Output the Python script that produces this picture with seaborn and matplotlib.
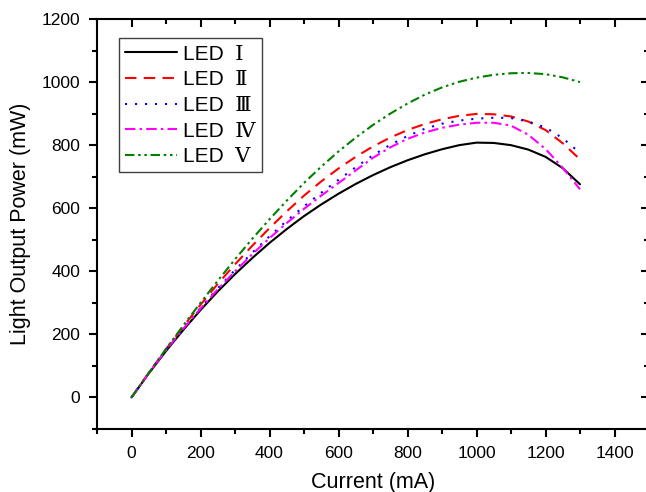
import numpy as np
import pandas as pd
import matplotlib
matplotlib.use("Agg")
import matplotlib.pyplot as plt
from matplotlib.ticker import MultipleLocator
from matplotlib.font_manager import FontProperties
from matplotlib.lines import TICKDOWN, TICKLEFT
import seaborn as sns

# Drive current (mA)
current = [0, 50, 100, 150, 200, 250, 300, 350, 400, 450, 500, 550, 600, 650,
           700, 750, 800, 850, 900, 950, 1000, 1050, 1100, 1150, 1200, 1250, 1300]

# Light output power (mW) for each device
led_1 = [0, 76, 147, 214, 277, 336, 391, 442, 490, 534, 575, 612, 646, 677,
         705, 730, 752, 771, 787, 800, 808, 807, 800, 786, 763, 727, 676]
led_2 = [0, 78, 153, 225, 294, 360, 422, 481, 537, 590, 640, 685, 726, 763,
         796, 824, 848, 867, 882, 893, 899, 898, 891, 875, 848, 806, 755]
led_3 = [0, 77, 150, 219, 284, 346, 404, 459, 511, 560, 606, 649, 690, 730,
         768, 801, 829, 852, 868, 878, 884, 887, 886, 875, 856, 822, 775]
led_4 = [0, 77, 150, 218, 282, 343, 400, 454, 505, 553, 598, 640, 680, 720,
         760, 793, 820, 840, 855, 865, 871, 871, 862, 833, 788, 728, 660]
led_5 = [0, 78, 154, 228, 300, 370, 438, 503, 565, 624, 680, 732, 780, 824,
         864, 900, 932, 960, 983, 1001, 1014, 1023, 1028, 1029, 1025, 1015, 1000]

labels = ["LED  Ⅰ", "LED  Ⅱ", "LED  Ⅲ", "LED  Ⅳ", "LED  Ⅴ"]
series = [led_1, led_2, led_3, led_4, led_5]

df = pd.DataFrame({
    "Current": np.tile(current, len(series)),
    "Power": np.concatenate(series),
    "Device": np.repeat(labels, len(current)),
})

sns.set_style("ticks")
plt.rcParams["font.family"] = ["Liberation Sans", "DejaVu Serif"]
plt.rcParams.update({
    "axes.linewidth": 1.5,
    "text.color": "black",
    "axes.labelcolor": "black",
    "axes.edgecolor": "black",
    "xtick.color": "black",
    "ytick.color": "black",
})

palette = dict(zip(labels, ["#000000", "#ff0000", "#0000ff", "#ff00ff", "#008000"]))
dashes = dict(zip(labels, ["", (5.5, 3.5), (1, 3.8), (5, 2, 1.2, 2),
                           (4.5, 1.8, 1.2, 1.8, 1.2, 1.8)]))

fig = plt.figure(figsize=(6.46, 4.92), dpi=100)
ax = fig.add_axes([97 / 646, 1 - 429 / 492, 552 / 646, 410 / 492])

sns.lineplot(data=df, x="Current", y="Power", hue="Device", style="Device",
             palette=palette, dashes=dashes, linewidth=1.5, legend=False, ax=ax)

ax.set_xlim(-100, 1500)
ax.set_ylim(-100, 1200)
ax.xaxis.set_major_locator(MultipleLocator(200))
ax.xaxis.set_minor_locator(MultipleLocator(100))
ax.yaxis.set_major_locator(MultipleLocator(200))
ax.yaxis.set_minor_locator(MultipleLocator(100))
ax.set_xticks([0, 200, 400, 600, 800, 1000, 1200, 1400])

ax.tick_params(axis="both", which="major", direction="out", length=6, width=1.5,
               labelsize=12.5, pad=6)
ax.tick_params(axis="both", which="minor", direction="out", length=3.5, width=1.5)
ax.tick_params(axis="both", which="both", top=True, right=True)
# top and right ticks point inwards
for t in ax.xaxis.get_major_ticks() + ax.xaxis.get_minor_ticks():
    t.tick2line.set_marker(TICKDOWN)
for t in ax.yaxis.get_major_ticks() + ax.yaxis.get_minor_ticks():
    t.tick2line.set_marker(TICKLEFT)

ax.set_xlabel("Current (mA)", fontsize=15.5, labelpad=8)
ax.set_ylabel("Light Output Power (mW)", fontsize=15.5, labelpad=8)

leg = ax.legend(handles=ax.get_lines()[:5], labels=labels, loc="upper left",
                bbox_to_anchor=(0.039, 0.953),
                prop=FontProperties(family=["Liberation Sans", "DejaVu Serif"], size=15),
                frameon=True, fancybox=False, shadow=False, framealpha=1,
                edgecolor="#404040", handlelength=2.5, handletextpad=0.3,
                labelspacing=0.32, borderpad=0.3, borderaxespad=0)
leg.get_frame().set_linewidth(1.0)

fig.savefig("out.png", dpi=100)
